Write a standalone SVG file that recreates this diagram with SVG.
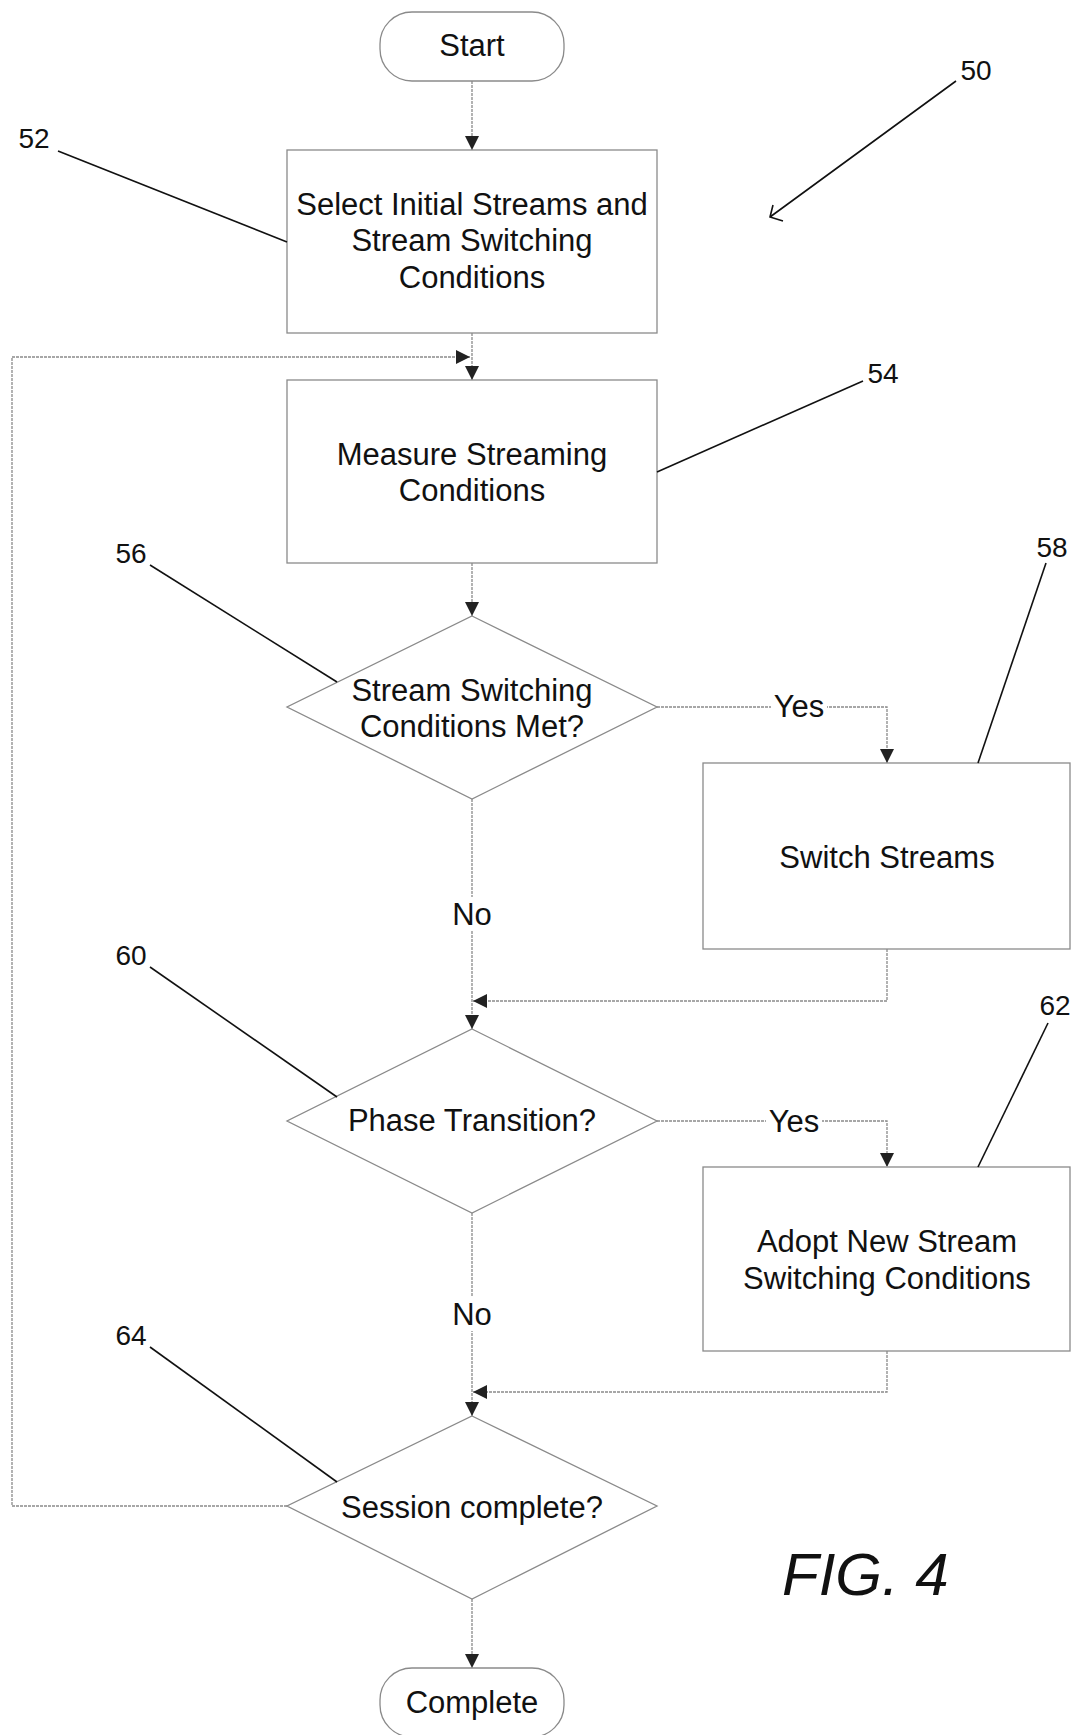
<svg xmlns="http://www.w3.org/2000/svg" width="1078" height="1735" viewBox="0 0 1078 1735">
<style>
.shape{fill:#fff;stroke:#8a8a8a;stroke-width:1.3}
.conn{fill:none;stroke:#8a8a8a;stroke-width:1.3;stroke-dasharray:3 1}
.lead{fill:none;stroke:#111;stroke-width:1.6}
.t{font-family:"Liberation Sans",Arial,sans-serif;font-size:31px;fill:#111;text-anchor:middle}
.ref{font-family:"Liberation Sans",Arial,sans-serif;font-size:28px;fill:#111;text-anchor:middle}
.fig{font-family:"Liberation Sans",Arial,sans-serif;font-size:60px;font-style:italic;fill:#111}
</style>
<defs>
<marker id="ah" markerUnits="userSpaceOnUse" markerWidth="14" markerHeight="14" viewBox="0 0 14 14" refX="14" refY="7" orient="auto">
<path d="M0,0 L14,7 L0,14 Z" fill="#222"/>
</marker>
</defs>
<g id="connectors">
<path class="conn" d="M472,81 V150" marker-end="url(#ah)"/>
<path class="conn" d="M472,333 V380" marker-end="url(#ah)"/>
<path class="conn" d="M287,1506 H12 V357 H470" marker-end="url(#ah)"/>
<path class="conn" d="M472,563 V616" marker-end="url(#ah)"/>
<path class="conn" d="M657,707 H887 V763" marker-end="url(#ah)"/>
<path class="conn" d="M472,799 V1029" marker-end="url(#ah)"/>
<path class="conn" d="M887,949 V1001 H473" marker-end="url(#ah)"/>
<path class="conn" d="M657,1121 H887 V1167" marker-end="url(#ah)"/>
<path class="conn" d="M472,1213 V1416" marker-end="url(#ah)"/>
<path class="conn" d="M887,1351 V1392 H473" marker-end="url(#ah)"/>
<path class="conn" d="M472,1599 V1668" marker-end="url(#ah)"/>
<rect x="771" y="689" width="56" height="34" fill="#fff"/>
<text class="t" x="799" y="717">Yes</text>
<rect x="446" y="897" width="52" height="34" fill="#fff"/>
<text class="t" x="472" y="925">No</text>
<rect x="766" y="1104" width="56" height="34" fill="#fff"/>
<text class="t" x="794" y="1132">Yes</text>
<rect x="446" y="1297" width="52" height="34" fill="#fff"/>
<text class="t" x="472" y="1325">No</text>
</g>
<g id="start">
<rect class="shape" x="380" y="12" width="184" height="69" rx="32"/>
<text class="t" x="472" y="56">Start</text>
</g>
<g id="n52">
<rect class="shape" x="287" y="150" width="370" height="183"/>
<text class="t" x="472" y="215">Select Initial Streams and</text>
<text class="t" x="472" y="251">Stream Switching</text>
<text class="t" x="472" y="288">Conditions</text>
</g>
<g id="n54">
<rect class="shape" x="287" y="380" width="370" height="183"/>
<text class="t" x="472" y="465">Measure Streaming</text>
<text class="t" x="472" y="501">Conditions</text>
</g>
<g id="n56">
<path class="shape" d="M472,616 L657,707 L472,799 L287,707 Z"/>
<text class="t" x="472" y="701">Stream Switching</text>
<text class="t" x="472" y="737">Conditions Met?</text>
</g>
<g id="n58">
<rect class="shape" x="703" y="763" width="367" height="186"/>
<text class="t" x="887" y="868">Switch Streams</text>
</g>
<g id="n60">
<path class="shape" d="M472,1029 L657,1121 L472,1213 L287,1121 Z"/>
<text class="t" x="472" y="1131">Phase Transition?</text>
</g>
<g id="n62">
<rect class="shape" x="703" y="1167" width="367" height="184"/>
<text class="t" x="887" y="1252">Adopt New Stream</text>
<text class="t" x="887" y="1289">Switching Conditions</text>
</g>
<g id="n64">
<path class="shape" d="M472,1416 L657,1506 L472,1599 L287,1506 Z"/>
<text class="t" x="472" y="1518">Session complete?</text>
</g>
<g id="complete">
<rect class="shape" x="380" y="1668" width="184" height="69" rx="32"/>
<text class="t" x="472" y="1713">Complete</text>
</g>
<g id="refs">
<text class="ref" x="976" y="80">50</text>
<path class="lead" d="M956,81 L770,217 M773,205 L770,217 L783,221"/>
<text class="ref" x="34" y="148">52</text>
<path class="lead" d="M58,151 L287,242"/>
<text class="ref" x="883" y="383">54</text>
<path class="lead" d="M863,381 L657,472"/>
<text class="ref" x="131" y="563">56</text>
<path class="lead" d="M150,565 L337,682"/>
<text class="ref" x="1052" y="557">58</text>
<path class="lead" d="M1046,563 L978,763"/>
<text class="ref" x="131" y="965">60</text>
<path class="lead" d="M150,967 L337,1097"/>
<text class="ref" x="1055" y="1015">62</text>
<path class="lead" d="M1048,1023 L978,1167"/>
<text class="ref" x="131" y="1345">64</text>
<path class="lead" d="M150,1347 L337,1482"/>
<text class="fig" x="782" y="1595">FIG. 4</text>
</g>
</svg>
